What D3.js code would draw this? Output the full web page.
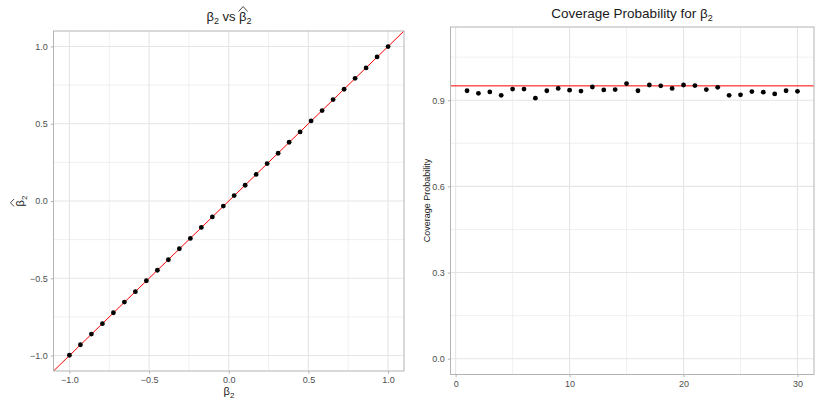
<!DOCTYPE html>
<html>
<head>
<meta charset="utf-8">
<script src="https://cdn.jsdelivr.net/npm/d3@7"></script>
<style>
body { margin: 0; background: #fff; }
svg { font-family: "Liberation Sans", Arial, sans-serif; }
.tick text { fill: #4d4d4d; font-size: 9px; }
.tick line { stroke: #b3b3b3; }
</style>
</head>
<body>
<svg width="817" height="402"></svg>
<script>
// true beta2 values (seq -1..1, 30 points) and the estimates
var betaTrue = [-1.000, -0.931, -0.862, -0.793, -0.724, -0.655, -0.586, -0.517, -0.448, -0.379,
                -0.310, -0.241, -0.172, -0.103, -0.034, 0.034, 0.103, 0.172, 0.241, 0.310,
                0.379, 0.448, 0.517, 0.586, 0.655, 0.724, 0.793, 0.862, 0.931, 1.000];
var betaHat = [-0.998, -0.930, -0.861, -0.794, -0.723, -0.654, -0.587, -0.516, -0.448, -0.380,
               -0.309, -0.242, -0.171, -0.103, -0.033, 0.035, 0.102, 0.172, 0.242, 0.309,
               0.380, 0.447, 0.518, 0.585, 0.656, 0.723, 0.794, 0.861, 0.932, 0.999];
var leftXTicks = [-1.0, -0.5, 0.0, 0.5, 1.0];
var leftYTicks = [-1.0, -0.5, 0.0, 0.5, 1.0];

// coverage probability per scenario
var scenario = d3.range(1, 31);
var coverage = [0.933, 0.924, 0.929, 0.917, 0.939, 0.939, 0.907, 0.933, 0.941, 0.935,
                0.932, 0.946, 0.936, 0.937, 0.958, 0.933, 0.953, 0.950, 0.941, 0.953,
                0.951, 0.937, 0.945, 0.917, 0.919, 0.930, 0.928, 0.922, 0.933, 0.931];
var nominal = 0.95;
var rightXTicks = [0, 10, 20, 30];
var rightYTicks = [0.0, 0.3, 0.6, 0.9];

var svg = d3.select('svg');
var gridCol = '#e5e5e5';

// small hat drawn over an estimate symbol
var drawHat = (g, x, y, w, h) => {
    g.append('path')
        .attr('d', 'M' + x + ',' + y + ' L' + (x + w / 2) + ',' + (y - h) + ' L' + (x + w) + ',' + y)
        .attr('fill', 'none')
        .attr('stroke', '#1a1a1a')
        .attr('stroke-width', 0.8);
}

var fmt1 = d3.format('.1f');
var minus = (s) => s.replace('-', '\u2212');

// ---------- left panel ----------
var L = {left: 53.5, right: 404, top: 31, bottom: 371};
var xL = d3.scaleLinear().domain([-1.1, 1.1]).range([L.left, L.right]);
var yL = d3.scaleLinear().domain([-1.1, 1.1]).range([L.bottom, L.top]);

var gl = svg.append('g');

gl.selectAll('.minorx').data([-0.75, -0.25, 0.25, 0.75]).enter().append('line')
    .attr('x1', d => xL(d)).attr('x2', d => xL(d)).attr('y1', L.top).attr('y2', L.bottom)
    .attr('stroke', gridCol).attr('stroke-width', 0.6);
gl.selectAll('.minory').data([-0.75, -0.25, 0.25, 0.75]).enter().append('line')
    .attr('y1', d => yL(d)).attr('y2', d => yL(d)).attr('x1', L.left).attr('x2', L.right)
    .attr('stroke', gridCol).attr('stroke-width', 0.6);
gl.selectAll('.majorx').data(leftXTicks).enter().append('line')
    .attr('x1', d => xL(d)).attr('x2', d => xL(d)).attr('y1', L.top).attr('y2', L.bottom)
    .attr('stroke', gridCol).attr('stroke-width', 1.1);
gl.selectAll('.majory').data(leftYTicks).enter().append('line')
    .attr('y1', d => yL(d)).attr('y2', d => yL(d)).attr('x1', L.left).attr('x2', L.right)
    .attr('stroke', gridCol).attr('stroke-width', 1.1);

// y = x reference line, clipped to panel
svg.append('clipPath').attr('id', 'clipL').append('rect')
    .attr('x', L.left).attr('y', L.top).attr('width', L.right - L.left).attr('height', L.bottom - L.top);
gl.append('line')
    .attr('clip-path', 'url(#clipL)')
    .attr('x1', xL(-1.1)).attr('y1', yL(-1.1)).attr('x2', xL(1.1)).attr('y2', yL(1.1))
    .attr('stroke', '#ff0000').attr('stroke-width', 1);

gl.selectAll('circle').data(betaTrue).enter().append('circle')
    .attr('cx', d => xL(d))
    .attr('cy', (d, i) => yL(betaHat[i]))
    .attr('r', 2.4)
    .attr('fill', '#000');

gl.append('rect').attr('x', L.left).attr('y', L.top)
    .attr('width', L.right - L.left).attr('height', L.bottom - L.top)
    .attr('fill', 'none').attr('stroke', '#b3b3b3').attr('stroke-width', 1);

gl.append('g').attr('transform', 'translate(0,' + L.bottom + ')')
    .call(d3.axisBottom(xL).tickValues(leftXTicks).tickSize(2.7).tickPadding(3).tickFormat(d => minus(fmt1(d))))
    .call(g => g.select('.domain').remove());
gl.append('g').attr('transform', 'translate(' + L.left + ',0)')
    .call(d3.axisLeft(yL).tickValues(leftYTicks).tickSize(2.7).tickPadding(3).tickFormat(d => minus(fmt1(d))))
    .call(g => g.select('.domain').remove());

// left titles
var t1 = gl.append('text').attr('x', 229).attr('y', 20.5).attr('text-anchor', 'middle')
    .attr('font-size', 13).attr('fill', '#1a1a1a');
t1.append('tspan').text('β');
t1.append('tspan').attr('font-size', 9).attr('dy', 3).text('2');
t1.append('tspan').attr('dy', -3).text(' vs β');
var sub2 = t1.append('tspan').attr('font-size', 9).attr('dy', 3).text('2');
// place the hat over the second beta using the measured text
var bb = t1.node().getBBox();
drawHat(gl, bb.x + bb.width - 13, 11.5, 9, 5);

var xt = gl.append('text').attr('x', 229).attr('y', 395).attr('text-anchor', 'middle')
    .attr('font-size', 11).attr('fill', '#1a1a1a');
xt.append('tspan').text('β');
xt.append('tspan').attr('font-size', 8).attr('dy', 2.5).text('2');

var yt = gl.append('g').attr('transform', 'translate(24,201) rotate(-90)');
var ytt = yt.append('text').attr('x', 0).attr('y', 0).attr('text-anchor', 'middle')
    .attr('font-size', 11).attr('fill', '#1a1a1a');
ytt.append('tspan').text('β');
ytt.append('tspan').attr('font-size', 8).attr('dy', 2.5).text('2');
drawHat(yt, -5.5, -10, 7.5, 3.5);

// ---------- right panel ----------
var R = {left: 450.5, right: 814, top: 27, bottom: 374.5};
var xR = d3.scaleLinear().domain([-0.45, 31.45]).range([R.left, R.right]);
var yR = d3.scaleLinear().domain([-0.055, 1.155]).range([R.bottom, R.top]);

var gr = svg.append('g');

gr.selectAll('.minorx').data([5, 15, 25]).enter().append('line')
    .attr('x1', d => xR(d)).attr('x2', d => xR(d)).attr('y1', R.top).attr('y2', R.bottom)
    .attr('stroke', gridCol).attr('stroke-width', 0.6);
gr.selectAll('.minory').data([0.15, 0.45, 0.75, 1.05]).enter().append('line')
    .attr('y1', d => yR(d)).attr('y2', d => yR(d)).attr('x1', R.left).attr('x2', R.right)
    .attr('stroke', gridCol).attr('stroke-width', 0.6);
gr.selectAll('.majorx').data(rightXTicks).enter().append('line')
    .attr('x1', d => xR(d)).attr('x2', d => xR(d)).attr('y1', R.top).attr('y2', R.bottom)
    .attr('stroke', gridCol).attr('stroke-width', 1.1);
gr.selectAll('.majory').data(rightYTicks).enter().append('line')
    .attr('y1', d => yR(d)).attr('y2', d => yR(d)).attr('x1', R.left).attr('x2', R.right)
    .attr('stroke', gridCol).attr('stroke-width', 1.1);

gr.append('line')
    .attr('x1', R.left).attr('x2', R.right).attr('y1', yR(nominal)).attr('y2', yR(nominal))
    .attr('stroke', '#ff0000').attr('stroke-width', 1);

gr.selectAll('circle').data(scenario).enter().append('circle')
    .attr('cx', d => xR(d))
    .attr('cy', (d, i) => yR(coverage[i]))
    .attr('r', 2.4)
    .attr('fill', '#000');

gr.append('rect').attr('x', R.left).attr('y', R.top)
    .attr('width', R.right - R.left).attr('height', R.bottom - R.top)
    .attr('fill', 'none').attr('stroke', '#b3b3b3').attr('stroke-width', 1);

gr.append('g').attr('transform', 'translate(0,' + R.bottom + ')')
    .call(d3.axisBottom(xR).tickValues(rightXTicks).tickSize(2.7).tickPadding(3).tickFormat(d3.format('d')))
    .call(g => g.select('.domain').remove());
gr.append('g').attr('transform', 'translate(' + R.left + ',0)')
    .call(d3.axisLeft(yR).tickValues(rightYTicks).tickSize(2.7).tickPadding(3).tickFormat(fmt1))
    .call(g => g.select('.domain').remove());

var t2 = gr.append('text').attr('x', 632).attr('y', 18).attr('text-anchor', 'middle')
    .attr('font-size', 13.5).attr('fill', '#1a1a1a');
t2.append('tspan').text('Coverage Probability for β');
t2.append('tspan').attr('font-size', 9).attr('dy', 3).text('2');

gr.append('text').attr('transform', 'translate(430,200.5) rotate(-90)')
    .attr('text-anchor', 'middle').attr('font-size', 9).attr('fill', '#1a1a1a')
    .text('Coverage Probability');
</script>
</body>
</html>
